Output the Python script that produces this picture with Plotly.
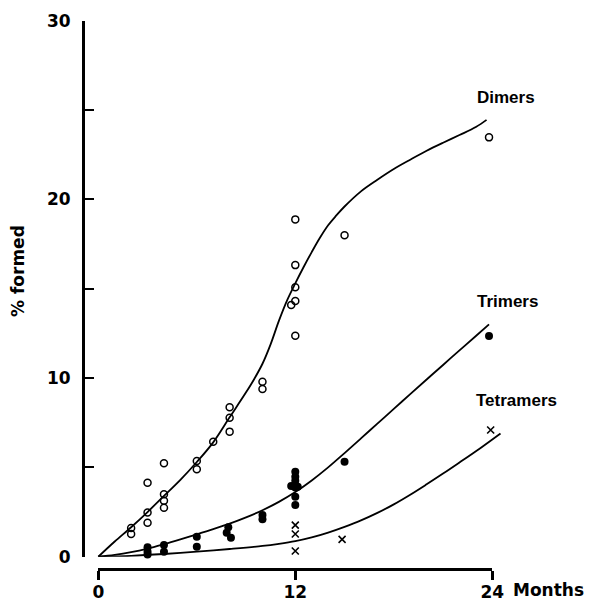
import plotly.graph_objects as go

# ---- measured points (months, % formed) ----
dimer_months = [2, 2, 3, 3, 3, 4, 4, 4, 4, 6, 6, 7, 8, 8, 8, 10, 10,
                12, 12, 12, 12, 11.75, 12, 15, 23.8]
dimer_pct = [1.61, 1.27, 4.14, 2.48, 1.90, 5.23, 3.49, 3.13, 2.74, 5.36, 4.89, 6.44,
             8.36, 7.78, 7.0, 9.79, 9.38,
             18.88, 16.32, 15.08, 14.31, 14.09, 12.37, 17.99, 23.47]

trimer_months = [3, 3, 3, 4, 4, 6, 6, 7.92, 7.82, 8.08, 10, 10,
                 12, 12, 12, 11.75, 12.15, 12, 12, 12, 15, 23.8]
trimer_pct = [0.53, 0.28, 0.13, 0.65, 0.28, 1.12, 0.56, 1.65, 1.34, 1.06, 2.33, 2.09,
              4.76, 4.48, 4.25, 3.96, 3.92, 3.88, 3.36, 2.89, 5.32, 12.35]

tetramer_months = [12, 12, 12, 14.85, 23.9]
tetramer_pct = [1.77, 1.27, 0.32, 0.97, 7.09]

# ---- fitted curves ----
dimer_fit_months = [0, 1, 2, 3, 4, 5, 6, 7, 8, 9, 9.5, 10, 10.5, 11, 11.5, 12, 12.5,
                    13, 13.5, 14, 14.5, 15, 16, 17, 18, 19, 20, 21, 22, 23, 23.65]
dimer_fit_pct = [0, 0.85, 1.65, 2.5, 3.4, 4.3, 5.3, 6.4, 7.8, 9.2, 9.95, 10.8, 11.9,
                 13.2, 14.35, 15.3, 16.2, 17.05, 17.85, 18.55, 19.1, 19.6, 20.45, 21.1,
                 21.7, 22.22, 22.72, 23.17, 23.6, 24.05, 24.45]

trimer_fit_months = [0, 1, 2, 3, 4, 5, 6, 7, 8, 9, 10, 11, 12, 13, 14, 15, 16, 17,
                     18, 19, 20, 21, 22, 23, 23.8]
trimer_fit_pct = [0, 0.1, 0.25, 0.45, 0.7, 0.97, 1.25, 1.54, 1.85, 2.2, 2.6, 3.07,
                  3.62, 4.27, 5.0, 5.8, 6.62, 7.45, 8.27, 9.1, 9.92, 10.73, 11.55,
                  12.35, 13.0]

tetramer_fit_months = [0, 2, 4, 6, 8, 10, 11, 12, 13, 14, 15, 16, 17, 18, 19, 20, 21,
                       22, 23, 24.5]
tetramer_fit_pct = [0, 0.05, 0.15, 0.28, 0.43, 0.6, 0.72, 0.87, 1.08, 1.35, 1.67, 2.03,
                    2.45, 2.93, 3.47, 4.05, 4.65, 5.27, 5.9, 6.9]

# ---- axes ticks / labels ----
x_tick_vals = [0, 12, 24]
x_tick_text = ["0", "12", "24"]
y_tick_vals = [0, 5, 10, 15, 20, 25, 30]
y_tick_text = ["0", "", "10", "", "20", "", "30"]

series_labels = ["Dimers", "Trimers", "Tetramers"]
label_months = [24.83, 24.9, 25.45]
label_pct = [25.72, 14.31, 8.77]

W, H = 593, 607
INK = "#000000"
AXFONT = dict(family="DejaVu Sans", size=17, color=INK, weight="bold")
LBLFONT = dict(family="Liberation Sans, Arial", size=17, color=INK, weight="bold")

fig = go.Figure()

curve_style = dict(mode="lines", line=dict(color=INK, width=1.8, shape="spline", smoothing=1.0),
                   hoverinfo="skip", showlegend=False)
fig.add_trace(go.Scatter(x=dimer_fit_months, y=dimer_fit_pct, **curve_style))
fig.add_trace(go.Scatter(x=trimer_fit_months, y=trimer_fit_pct, **curve_style))
fig.add_trace(go.Scatter(x=tetramer_fit_months, y=tetramer_fit_pct, **curve_style))

fig.add_trace(go.Scatter(
    x=dimer_months, y=dimer_pct, mode="markers", showlegend=False, cliponaxis=False,
    marker=dict(symbol="circle-open", size=7, color=INK, line=dict(width=1.5, color=INK))))
fig.add_trace(go.Scatter(
    x=trimer_months, y=trimer_pct, mode="markers", showlegend=False, cliponaxis=False,
    marker=dict(symbol="circle", size=8, color=INK, line=dict(width=0))))
fig.add_trace(go.Scatter(
    x=tetramer_months, y=tetramer_pct, mode="markers", showlegend=False, cliponaxis=False,
    marker=dict(symbol="x-thin", size=7, color=INK, line=dict(width=1.6, color=INK))))

# carrier for the month axis
fig.add_trace(go.Scatter(x=[0, 24], y=[None, None], xaxis="x2", yaxis="y", mode="lines",
                         showlegend=False, hoverinfo="skip"))

for txt, mx, py in zip(series_labels, label_months, label_pct):
    fig.add_annotation(x=mx, y=py, xref="x", yref="y", text=txt, showarrow=False,
                       font=LBLFONT, xanchor="center", yanchor="middle")

fig.add_annotation(x=24, y=(H - 590) / H, xref="x2", yref="paper", text="Months",
                   showarrow=False, font=AXFONT, xanchor="left", yanchor="middle", xshift=19)
fig.add_annotation(x=18 / W, y=(H - 271) / H, xref="paper", yref="paper", text="% formed",
                   showarrow=False, font=AXFONT, textangle=-90,
                   xanchor="center", yanchor="middle")

x0_px, x24_px = 98.3, 492.3
px_per_month = (x24_px - x0_px) / 24
xl_px, xr_px = 83.0, 525.0

fig.update_layout(
    width=W, height=H, autosize=False, template="none",
    margin=dict(l=0, r=0, t=0, b=0, pad=0),
    paper_bgcolor="white", plot_bgcolor="rgba(0,0,0,0)",
    xaxis=dict(domain=[xl_px / W, xr_px / W],
               range=[(xl_px - x0_px) / px_per_month, (xr_px - x0_px) / px_per_month],
               visible=False, fixedrange=True, automargin=False),
    xaxis2=dict(domain=[x0_px / W, x24_px / W], range=[0, 24], anchor="free",
                position=(H - 568.5) / H, showline=True, linecolor=INK, linewidth=3,
                ticks="outside", ticklen=9, tickwidth=2.5, tickcolor=INK,
                tickvals=x_tick_vals, ticktext=x_tick_text, tickfont=AXFONT,
                ticklabelstandoff=-2,
                showgrid=False, zeroline=False, fixedrange=True, automargin=False),
    yaxis=dict(domain=[(H - 556.7) / H, (H - 20.7) / H], range=[0, 30],
               anchor="free", position=xl_px / W, side="left",
               showline=True, linecolor=INK, linewidth=3,
               ticks="inside", ticklen=9, tickwidth=1.5, tickcolor=INK,
               tickvals=y_tick_vals, ticktext=y_tick_text, tickfont=AXFONT,
               ticklabelstandoff=8,
               showgrid=False, zeroline=False, fixedrange=True, automargin=False),
)

fig.write_html("out.html")
